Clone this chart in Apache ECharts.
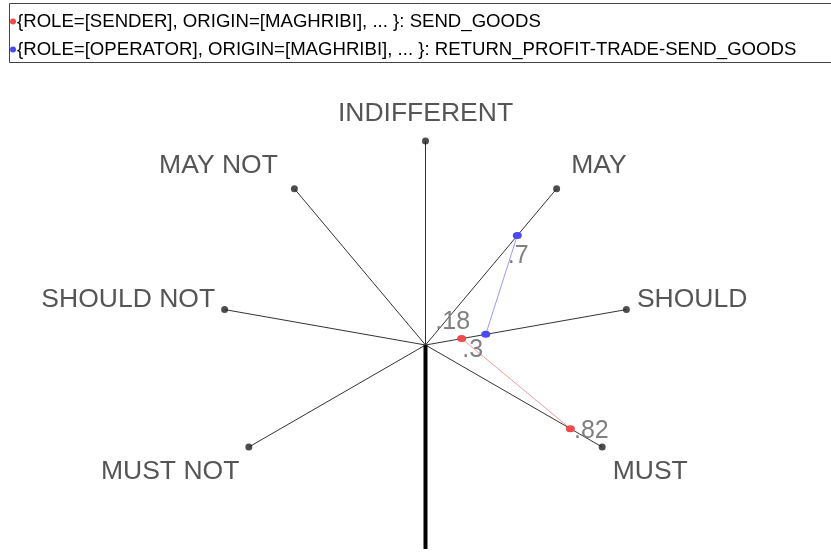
<!DOCTYPE html>
<html>
<head>
<meta charset="utf-8">
<script src="https://cdn.jsdelivr.net/npm/echarts@6/dist/echarts.min.js"></script>
<style>
  html, body { margin: 0; padding: 0; background: #fff; }
  #chart { width: 831px; height: 554px; }
</style>
</head>
<body>
<div id="chart"></div>
<script>
// spokes, clockwise from the top
const spokeNames = ['INDIFFERENT', 'MAY', 'SHOULD', 'MUST', 'MUST NOT', 'SHOULD NOT', 'MAY NOT']

// series
const senderName = '{ROLE=[SENDER], ORIGIN=[MAGHRIBI], ... }: SEND_GOODS'
const senderCats = ['SHOULD', 'MUST']
const senderValues = [0.18, 0.82]

const operatorName = '{ROLE=[OPERATOR], ORIGIN=[MAGHRIBI], ... }: RETURN_PROFIT-TRADE-SEND_GOODS'
const operatorCats = ['MAY', 'SHOULD']
const operatorValues = [0.7, 0.3]

const FONT = '"Liberation Sans", Arial, sans-serif'

// angle of a spoke (degrees, counter-clockwise from 3 o'clock)
const angleOf = (name) => {
    const i = spokeNames.indexOf(name)
    return i <= 3 ? 90 - 40 * i : 90 + 40 * (7 - i)
}

// where each spoke's text sits relative to its end dot
const spokeLabel = {
    'INDIFFERENT': { position: 'inside', offset: [0, -27] },
    'MAY': { position: 'right', distance: 11, offset: [0, -23] },
    'SHOULD': { position: 'right', distance: 7, offset: [0, -10] },
    'MUST': { position: 'right', distance: 7, offset: [0, 25] },
    'MUST NOT': { position: 'left', distance: 6, offset: [0, 25] },
    'SHOULD NOT': { position: 'left', distance: 6, offset: [0, -10] },
    'MAY NOT': { position: 'left', distance: 13, offset: [0, -23] }
}

// offsets of the value labels
const senderLabelOffset = [[-9, -17], [21, 2]]
const operatorLabelOffset = [[1, 21], [-13, 16]]

const shortNum = (v) => String(v).replace(/^0/, '')

const chart = echarts.init(document.getElementById('chart'))

const spokeSeries = spokeNames.map(n => ({
    type: 'line',
    coordinateSystem: 'polar',
    silent: true,
    symbol: 'none',
    lineStyle: { color: '#333', width: 1 },
    data: [[0, angleOf(n)], [1, angleOf(n)]],
    z: 1
}))

// thick bottom axis
spokeSeries.push({
    type: 'line',
    coordinateSystem: 'polar',
    silent: true,
    symbol: 'none',
    lineStyle: { color: '#000', width: 4 },
    data: [[0, 270], [1, 270]],
    z: 1
})

const endSeries = {
    type: 'scatter',
    coordinateSystem: 'polar',
    silent: true,
    symbol: 'circle',
    symbolSize: 7,
    itemStyle: { color: '#222' },
    label: {
        show: true,
        formatter: '{b}',
        fontFamily: FONT,
        fontSize: 26.5,
        color: '#2a2a2a'
    },
    data: spokeNames.map(n => ({
        name: n,
        value: [1, angleOf(n)],
        label: spokeLabel[n]
    })),
    z: 2
}

const dataSeries = (name, cats, vals, offsets, color, lineColor) => ({
    name: name,
    type: 'line',
    coordinateSystem: 'polar',
    symbol: 'circle',
    symbolSize: [9, 7],
    itemStyle: { color: color },
    lineStyle: { color: lineColor, width: 1 },
    label: {
        show: true,
        position: 'inside',
        fontFamily: FONT,
        fontSize: 25,
        color: '#808080',
        formatter: p => shortNum(p.value[0])
    },
    data: cats.map((c, j) => ({
        value: [vals[j], angleOf(c)],
        label: { offset: offsets[j] }
    })),
    z: 3
})

const option = {
    animation: false,
    backgroundColor: '#fff',
    polar: { center: [425.5, 345], radius: 204 },
    angleAxis: {
        type: 'value', min: 0, max: 360, startAngle: 0, clockwise: false,
        axisLine: { show: false }, axisTick: { show: false },
        axisLabel: { show: false }, splitLine: { show: false }
    },
    radiusAxis: {
        type: 'value', min: 0, max: 1,
        axisLine: { show: false }, axisTick: { show: false },
        axisLabel: { show: false }, splitLine: { show: false }
    },
    legend: {
        data: [senderName, operatorName],
        orient: 'vertical',
        left: 0,
        top: 4,
        padding: [8, 0, 0, 10],
        itemGap: 9,
        itemWidth: 6,
        itemHeight: 6,
        icon: 'circle',
        textStyle: { fontFamily: FONT, fontSize: 18.6, color: '#000', padding: [0, 0, 0, -4] }
    },
    graphic: [{
        type: 'rect',
        silent: true,
        shape: { x: 9.5, y: 3.5, width: 830, height: 59 },
        style: { fill: null, stroke: '#444', lineWidth: 1 }
    }],
    series: [
        ...spokeSeries,
        endSeries,
        dataSeries(senderName, senderCats, senderValues, senderLabelOffset, '#ee4a4a', '#f79a9a'),
        dataSeries(operatorName, operatorCats, operatorValues, operatorLabelOffset, '#4a4aee', '#9a9af7')
    ]
}

chart.setOption(option)
</script>
</body>
</html>
